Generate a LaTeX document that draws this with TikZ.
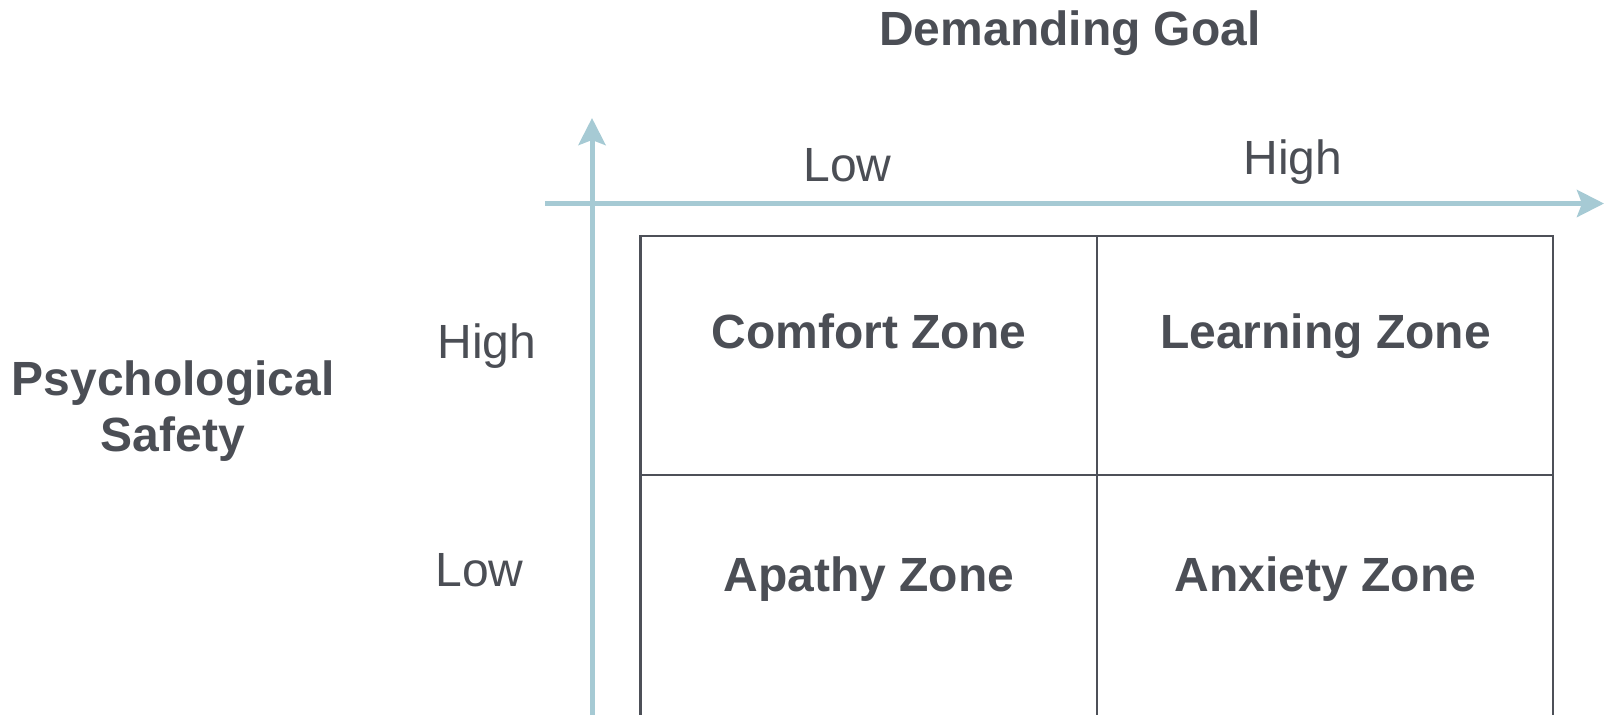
\documentclass[tikz,border=0pt]{standalone}
\usepackage{fontspec}
\setmainfont{Liberation Sans}
\usepackage{tikz}
\usetikzlibrary{arrows.meta,positioning}
\definecolor{axisblue}{HTML}{A6CAD4}
\definecolor{gridgray}{HTML}{4D5058}
\definecolor{textgray}{HTML}{4B4E55}
\tikzset{
  axis/.style={axisblue, line width=2.5pt, -{Stealth[length=13.5pt, width=13.5pt, inset=2.5pt]}},
  grid/.style={gridgray, line width=1.1pt},
  lbl/.style={text=textgray, inner sep=0pt, anchor=base, font=\fontsize{24}{28}\selectfont},
  zone/.style={lbl, font=\fontsize{24}{28}\selectfont\bfseries}
}
\begin{document}
\begin{tikzpicture}[x=0.5pt, y=-0.5pt]
  \useasboundingbox (0,0) rectangle (1605,714);
  \clip (0,0) rectangle (1605,714);
  % axes
  \coordinate(O) at (592,203.5);
  \coordinate(XL) at (545,203.5);
  \coordinate(XR) at (1604,203.5);
  \coordinate(YB) at (592,720);
  \coordinate(YT) at (592,118);
  \draw[axis](XL)--(XR);
  \draw[axis](YB)--(YT);
  % grid
  \coordinate(A) at (640.5,236);
  \coordinate(B) at (1553,236);
  \coordinate(M) at (1096.7,475.3);
  \draw[grid](A|-YB)--(A)--(B)--(B|-YB);
  \draw[grid](A|-M)--(B|-M);
  \draw[grid](M|-A)--(M|-YB);
  % titles
  \node[zone](goal) at (1070,45){Demanding Goal};
  \node[zone](psy) at (173,395){Psychological};
  \node[zone](safety) at (173,451.7){Safety};
  % levels
  \node[lbl](glow) at (847.5,181){Low};
  \node[lbl](ghigh) at (1293,174){High};
  \node[lbl, anchor=base west](shigh) at (437,358.3){High};
  \node[lbl, anchor=base west](slow) at (435,586){Low};
  % zones
  \node[zone](comfort) at (869,348.3){Comfort Zone};
  \node[zone](learning) at (1325.6,348.3){Learning Zone};
  \node[zone](apathy) at (869,591){Apathy Zone};
  \node[zone](anxiety) at (1325.6,591){Anxiety Zone};
\end{tikzpicture}
\end{document}
